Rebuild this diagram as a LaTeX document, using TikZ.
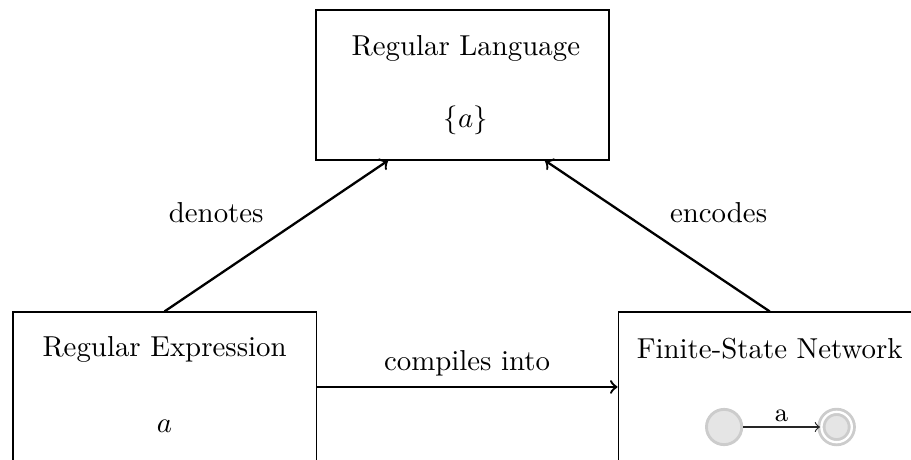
\documentclass[tikz,border=0pt]{standalone}
\usepackage{amsmath, amssymb}
\usepackage{tikz}
\usetikzlibrary{arrows}

\tikzset{
  box/.style={draw, rectangle, minimum height=1.827cm},
  conn/.style={->, thick},
  st/.style={circle, draw=gray!40, fill=gray!20, line width=1pt, minimum size=0.43cm, inner sep=0pt},
  acc/.style={st, double=white, double distance=0.8pt, minimum size=0.37cm}
}

\begin{document}
\begin{tikzpicture}
\useasboundingbox (0,0) rectangle (11.10,5.593);
%% boxes
\node[box, minimum width=3.57cm] (lang) at (5.636,4.557) {};
\node[box, minimum width=3.693cm] (expr) at (2.005,0.878) {};
\node[box, minimum width=3.693cm] (fsn) at (9.378,0.878) {};
%% box texts
\node[anchor=base] (langtitle) at ([xshift=0.04cm,yshift=0.365cm]lang.center) {Regular Language};
\node[anchor=base] (langset) at ([xshift=0.04cm,yshift=-0.523cm]lang.center) {$\{a\}$};
\node[anchor=base] (exprtitle) at ([yshift=0.377cm]expr.center) {Regular Expression};
\node[anchor=base] (exprre) at ([yshift=-0.549cm]expr.center) {$a$};
\node[anchor=base] (fsntitle) at ([yshift=0.341cm]fsn.center) {Finite-State Network};
%% small network
\node[st] (q0) at (8.823,0.390) {};
\node[acc] (q1) at (10.194,0.390) {};
\draw[->, gray!30!black] (q0) -- node[above, font=\small, text=black, inner sep=1.5pt] {a} (q1);
%% connectors
\draw[conn] (expr.north) -- node[above left, inner sep=4pt] {denotes} ([xshift=-0.908cm]lang.south);
\draw[conn] (fsn.north) -- node[above right, inner sep=4pt] {encodes} ([xshift=1.005cm]lang.south);
\draw[conn] (expr.east) -- node[above] {compiles into} (fsn.west);
\end{tikzpicture}
\end{document}
